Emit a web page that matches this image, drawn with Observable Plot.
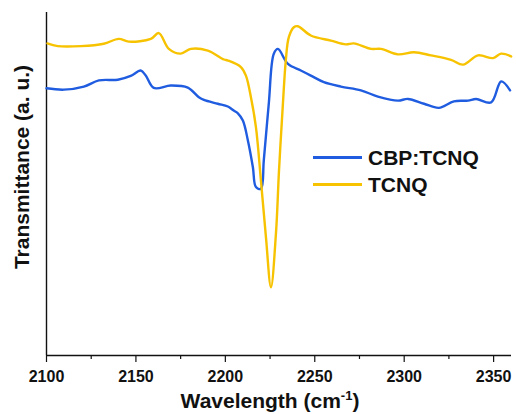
<!DOCTYPE html>
<html>
<head>
<meta charset="utf-8">
<script src="https://cdn.jsdelivr.net/npm/d3@7"></script>
<script src="https://cdn.jsdelivr.net/npm/@observablehq/plot@0.6"></script>
<style>
  html, body { margin: 0; padding: 0; background: #fff; }
  #wrap { position: relative; width: 516px; height: 414px; font-family: "Liberation Sans", Arial, sans-serif; }
  #legend { position: absolute; left: 313px; top: 144px; font-weight: bold; font-size: 21px; color: #111; line-height: 27px; }
  #legend .row { display: flex; align-items: center; }
  #legend .sw { width: 49px; height: 3px; margin-right: 6px; }
</style>
</head>
<body>
<div id="wrap"></div>
<script>
const seriesNames = ["CBP:TCNQ", "TCNQ"];
const seriesColors = ["#1f5ce0", "#f7c300"];

const cbpX = [2100, 2109.7, 2120.9, 2129.3, 2139.9, 2147.1, 2152.7, 2155.5, 2160, 2169.5, 2179, 2185.2, 2188, 2195.8, 2201.4, 2204.7, 2207, 2209.8, 2212.6, 2215.4, 2217.1, 2219.9, 2221.5, 2224.3, 2227.1, 2229.4, 2235, 2242.2, 2247.8, 2255.1, 2264.6, 2275.8, 2285.3, 2296.5, 2302.1, 2311.1, 2319.4, 2327.8, 2335.7, 2340.2, 2348.6, 2354.2, 2359.2];
const cbpY = [77.9, 77.5, 78.4, 80.2, 80.4, 81.5, 83.1, 81.6, 78.0, 78.7, 78.1, 75.3, 74.5, 73.4, 72.6, 71.4, 70.6, 68.5, 62.7, 54.9, 49.1, 48.6, 56.9, 73.5, 88.0, 89.4, 85.0, 83.1, 81.6, 79.7, 78.4, 77.3, 75.5, 74.3, 74.8, 73.4, 72.2, 74.1, 74.3, 74.8, 73.8, 79.9, 77.3];

const tcnqX = [2100.5, 2106.3, 2119.2, 2132, 2140.4, 2146, 2158.3, 2162.8, 2168.4, 2175.1, 2180.7, 2190.2, 2199.2, 2201.4, 2208.7, 2211.5, 2214.3, 2217.1, 2219.9, 2222.7, 2225.5, 2228.3, 2230, 2232.2, 2233.8, 2235.5, 2238.3, 2240.5, 2247.8, 2259, 2267.4, 2271.8, 2281.4, 2287, 2296.5, 2305.5, 2315, 2326.2, 2332.9, 2341.3, 2349.7, 2354.2, 2359.8];
const tcnqY = [91.0, 90.2, 90.2, 90.9, 92.3, 91.5, 92.3, 94.0, 89.4, 88.0, 89.4, 88.9, 86.3, 86.0, 84.1, 81.6, 75.3, 66.6, 51.0, 34.5, 19.9, 35.6, 53.9, 73.5, 86.0, 92.8, 95.7, 96.0, 93.3, 91.8, 90.7, 91.0, 89.4, 89.4, 87.8, 88.4, 87.5, 86.2, 84.8, 87.5, 86.7, 88.0, 87.2];

const majorTicks = [2100, 2150, 2200, 2250, 2300, 2350];
const minorTicks = [2125, 2175, 2225, 2275, 2325];

const cbp = cbpX.map((x, i) => ({x, y: cbpY[i]}));
const tcnq = tcnqX.map((x, i) => ({x, y: tcnqY[i]}));

const chart = Plot.plot({
  width: 516,
  height: 414,
  marginLeft: 46,
  marginRight: 5,
  marginTop: 12,
  marginBottom: 59,
  style: {fontFamily: '"Liberation Sans", Arial, sans-serif', background: "#fff", color: "#111"},
  x: {domain: [2100, 2360]},
  y: {domain: [0, 100], axis: null},
  marks: [
    Plot.axisX({ticks: minorTicks, tickSize: 4, text: null, label: null, strokeWidth: 1.2}),
    Plot.axisX({ticks: majorTicks, tickSize: 7, tickPadding: 8, tickFormat: d => String(d), fontSize: 16, fontWeight: "bold", label: null, strokeWidth: 1.2}),
    Plot.ruleX([2100], {stroke: "#111", strokeWidth: 1.4}),
    Plot.ruleY([0], {stroke: "#111", strokeWidth: 1.4}),
    Plot.line(cbp, {x: "x", y: "y", stroke: seriesColors[0], strokeWidth: 2.4, curve: "catmull-rom"}),
    Plot.line(tcnq, {x: "x", y: "y", stroke: seriesColors[1], strokeWidth: 2.4, curve: "catmull-rom"})
  ]
});

const svg = d3.select(chart);
const xl = svg.append("text")
  .attr("x", 270).attr("y", 408)
  .attr("text-anchor", "middle")
  .attr("font-size", 21).attr("font-weight", "bold").attr("fill", "#111");
xl.append("tspan").text("Wavelength (cm");
xl.append("tspan").attr("dy", -8).attr("font-size", 13).text("-1");
xl.append("tspan").attr("dy", 8).text(")");

svg.append("text")
  .attr("transform", "translate(29,167) rotate(-90)")
  .attr("text-anchor", "middle")
  .attr("font-size", 21).attr("font-weight", "bold").attr("fill", "#111")
  .text("Transmittance (a. u.)");

const wrap = document.getElementById("wrap");
wrap.appendChild(chart);

const legend = document.createElement("div");
legend.id = "legend";
seriesNames.forEach((name, i) => {
  const row = document.createElement("div");
  row.className = "row";
  const sw = document.createElement("span");
  sw.className = "sw";
  sw.style.background = seriesColors[i];
  const t = document.createElement("span");
  t.textContent = name;
  row.appendChild(sw);
  row.appendChild(t);
  legend.appendChild(row);
});
wrap.appendChild(legend);
</script>
</body>
</html>
